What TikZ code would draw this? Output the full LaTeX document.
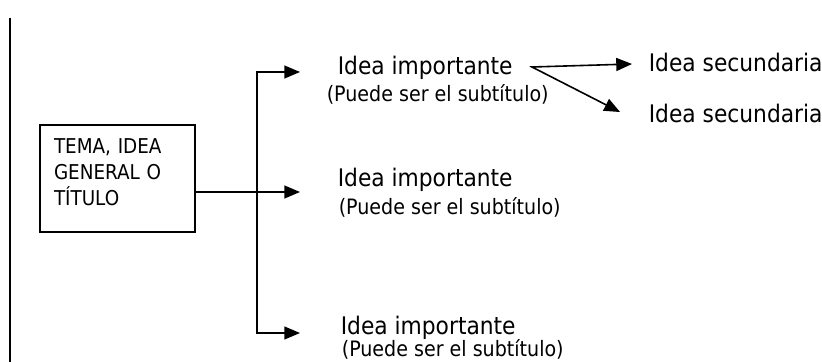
\documentclass[tikz,border=0pt]{standalone}
\usepackage{fontspec}
\setmainfont{DejaVu Sans Condensed}
\usetikzlibrary{arrows}
\usetikzlibrary{positioning}

\begin{document}
\begin{tikzpicture}[x=0.5pt,y=-0.5pt,line width=0.8pt,
  idea/.style={inner sep=0pt,anchor=base west,font=\fontsize{12.1}{14}\selectfont},
  sub/.style={inner sep=0pt,anchor=base west,font=\fontsize{10.6}{12}\selectfont}]
\useasboundingbox (0,0) rectangle (822,362);
\node [rectangle,draw,minimum width=77.5pt,minimum height=53.5pt,text width=63.5pt,text depth=32pt,inner xsep=7pt,align=left,font=\fontsize{10.2}{13}\selectfont] (tema) at (117.5,178.5) {TEMA, IDEA\\GENERAL O\\TÍTULO};
\node [idea] (imp1) at (337,75) {Idea importante};
\node [sub] (sub1) at (326,102) {(Puede ser el subtítulo)};
\node [idea] (imp2) at (337,187) {Idea importante};
\node [sub] (sub2) at (338,215) {(Puede ser el subtítulo)};
\node [idea] (imp3) at (340,335) {Idea importante};
\node [sub] (sub3) at (341,357) {(Puede ser el subtítulo)};
\node [idea] (sec1) at (648,72) {Idea secundaria};
\node [idea] (sec2) at (648,123) {Idea secundaria};

\coordinate (margin1) at (10,18);
\coordinate (margin2) at (10,362);
\coordinate (split) at (257,192);
\coordinate (top) at (257,72);
\coordinate (bot) at (257,333);
\coordinate (a1) at (300,72);
\coordinate (a2) at (300,192);
\coordinate (a3) at (300,333);
\coordinate (fork) at (532,67);
\coordinate (b1) at (632,64);
\coordinate (b2) at (620,112);

\draw (margin1) -- (margin2);
\draw [-triangle 45] (tema.east |- split) -- (a2);
\draw [triangle 45-triangle 45] (a3) -- (bot) -- (top) -- (a1);
\draw [triangle 45-triangle 45] (b1) -- (fork) -- (b2);
\end{tikzpicture}
\end{document}
